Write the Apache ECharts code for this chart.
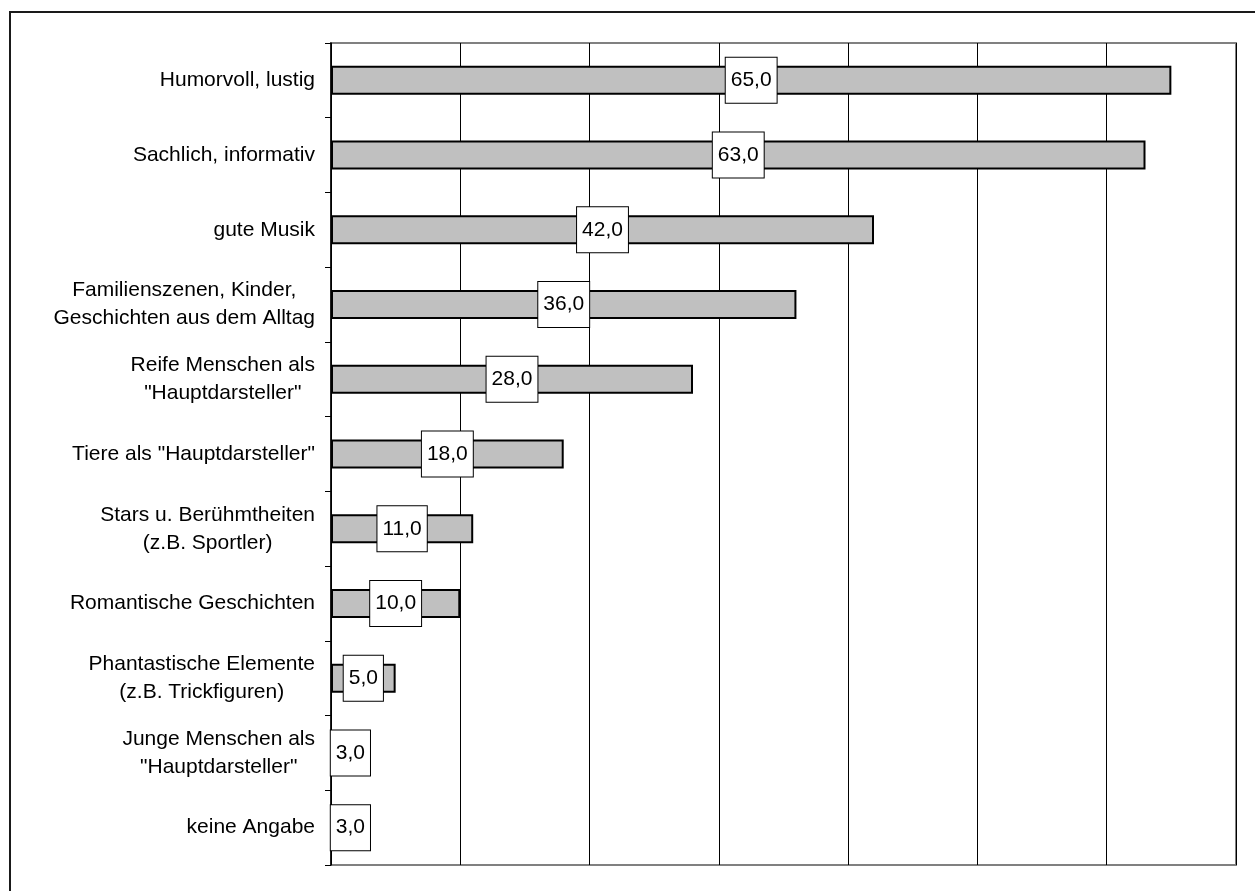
<!DOCTYPE html>
<html>
<head>
<meta charset="utf-8">
<title>Werbung – bevorzugte Elemente</title>
<script src="https://cdn.jsdelivr.net/npm/echarts@6/dist/echarts.min.js"></script>
<style>
  html, body { margin: 0; padding: 0; background: #fff; }
  #chart { width: 1255px; height: 891px; }
</style>
</head>
<body>
<div id="chart"></div>
<script>
// Answer categories, top to bottom
const categories = [
  'Humorvoll, lustig',
  'Sachlich, informativ',
  'gute Musik',
  'Familienszenen, Kinder,\nGeschichten aus dem Alltag',
  'Reife Menschen als\n"Hauptdarsteller"',
  'Tiere als "Hauptdarsteller"',
  'Stars u. Berühmtheiten\n(z.B. Sportler)',
  'Romantische Geschichten',
  'Phantastische Elemente\n(z.B. Trickfiguren)',
  'Junge Menschen als\n"Hauptdarsteller"',
  'keine Angabe'
];

// Share of mentions per category
const values = [65.0, 63.0, 42.0, 36.0, 28.0, 18.0, 11.0, 10.0, 5.0, 3.0, 3.0];

// Value axis range
const axisMin = 0;
const axisMax = 70;
const axisStep = 10;

const FONT = '"Liberation Sans", Arial, Helvetica, sans-serif';

const chart = echarts.init(document.getElementById('chart'), null, { renderer: 'canvas' });

chart.setOption({
  backgroundColor: '#ffffff',
  animation: false,
  graphic: [{
    type: 'rect',
    silent: true,
    z: -10,
    shape: { x: 10, y: 12, width: 1400, height: 1000 },
    style: { fill: 'none', stroke: '#1a1a1a', lineWidth: 2 }
  }],
  grid: {
    left: 331, top: 43, right: 19, bottom: 26,
    show: true,
    borderColor: '#808080',
    borderWidth: 2,
    containLabel: false,
    outerBoundsMode: 'none'
  },
  xAxis: {
    type: 'value',
    min: axisMin,
    max: axisMax,
    interval: axisStep,
    axisLabel: { show: false },
    axisTick: { show: false },
    axisLine: { show: false },
    splitLine: { show: true, lineStyle: { color: '#000', width: 1 } }
  },
  yAxis: {
    type: 'category',
    data: categories,
    inverse: true,
    axisLine: { show: true, lineStyle: { color: '#000', width: 1.5 } },
    axisTick: { show: true, length: 6, lineStyle: { color: '#000', width: 1 } },
    splitLine: { show: false },
    axisLabel: {
      margin: 16,
      align: 'right',
      color: '#000',
      fontSize: 21,
      fontFamily: FONT,
      lineHeight: 28,
      // each line centred inside the label block
      formatter: function (v) {
        return v.split('\n').map(function (l) { return '{c|' + l + '}'; }).join('\n');
      },
      rich: {
        c: { align: 'center', fontSize: 21, fontFamily: FONT, color: '#000', lineHeight: 28 }
      }
    }
  },
  series: [{
    type: 'bar',
    data: values,
    barWidth: 29,
    itemStyle: { color: '#c0c0c0', borderColor: '#000', borderWidth: 2 },
    label: {
      show: true,
      position: 'inside',
      formatter: function (p) { return p.value.toFixed(1).replace('.', ','); },
      color: '#000',
      fontSize: 21,
      fontFamily: FONT,
      lineHeight: 25,
      backgroundColor: '#fff',
      borderColor: '#000',
      borderWidth: 1,
      padding: [10, 5, 10, 5]
    }
  }]
});
</script>
</body>
</html>
